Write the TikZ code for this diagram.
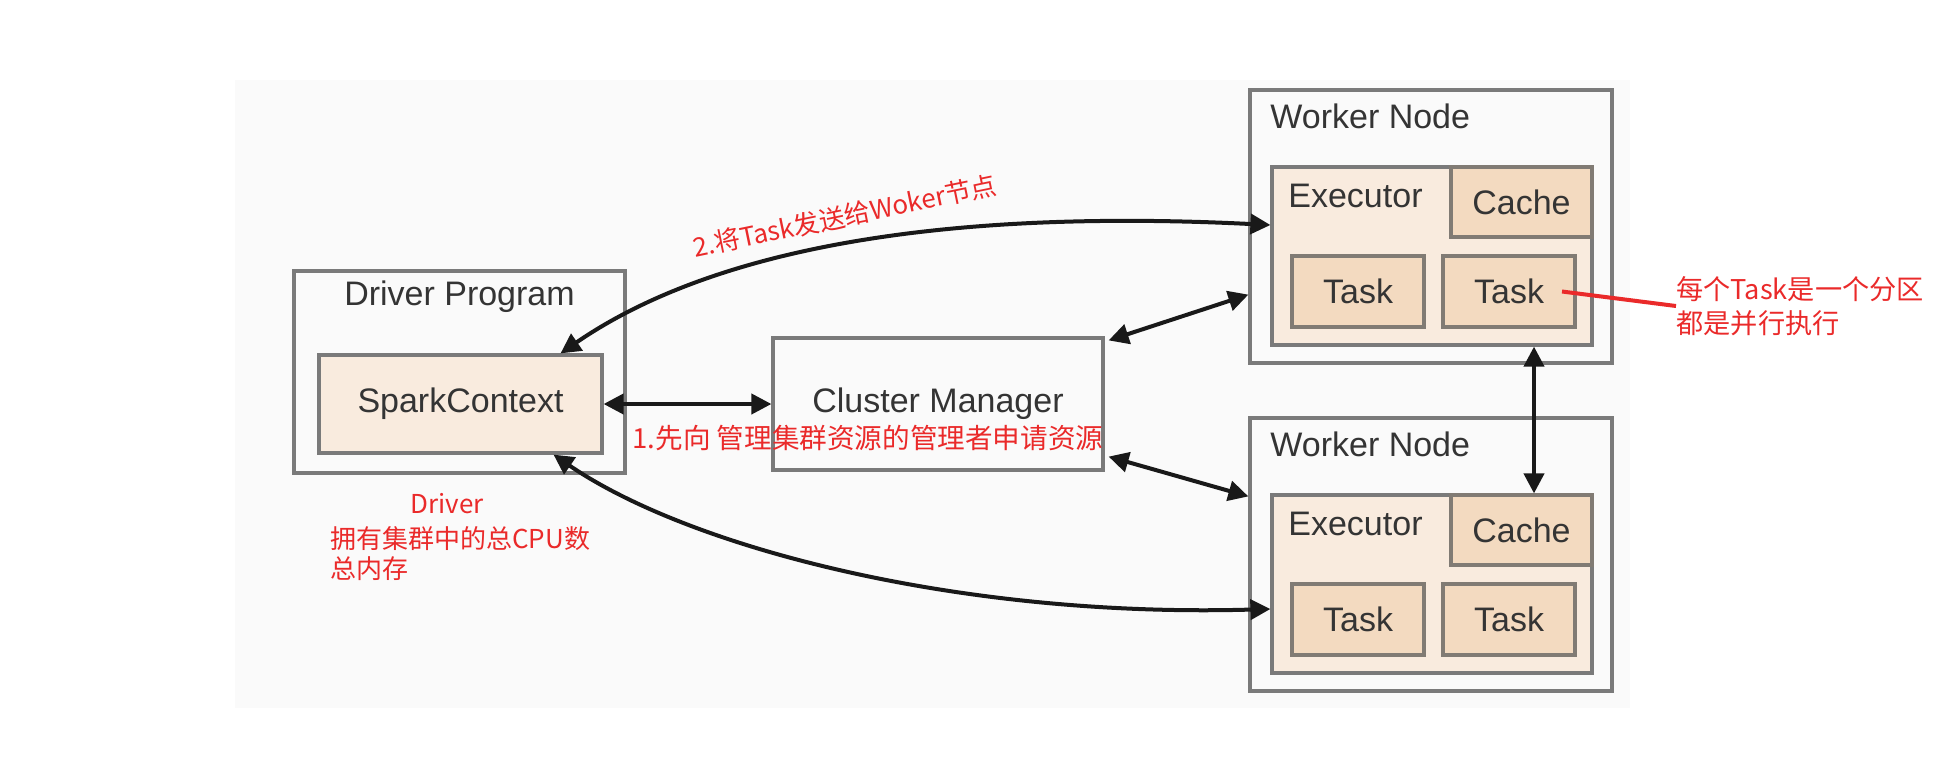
\documentclass[tikz,border=0pt]{standalone}
\usepackage{fontspec}
\setmainfont{Liberation Sans}
\newfontfamily\cjk{Noto Sans CJK SC}
\usetikzlibrary{arrows.meta,calc}
\definecolor{R}{RGB}{234, 42, 42}
\definecolor{Fo}{RGB}{250, 250, 250}
\definecolor{Ex}{RGB}{249, 235, 222}
\definecolor{Ta}{RGB}{243, 218, 192}
\definecolor{Bo}{RGB}{122, 122, 122}
\definecolor{Tx}{RGB}{52, 52, 52}

\tikzset{
	caja/.style={draw=Bo, line width=1.6pt, inner sep=0pt, text=Tx, font=\fontsize{17}{20}\selectfont},
	exe/.style={caja, fill=Ex},
	tarea/.style={caja, fill=Ta, draw=Bo!90!brown, minimum width=66pt, minimum height=35.5pt},
	titulo/.style={inner sep=0pt, text=Tx, font=\fontsize{17}{20}\selectfont},
	flecha/.style={{Triangle[length=10pt,width=10pt]}-{Triangle[length=10pt,width=10pt]}, line width=2pt, black!90},
	nota/.style={inner sep=0pt, text=R, font=\cjk\fontsize{13}{15}\selectfont}
}

\begin{document}
\begin{tikzpicture}[x=0.5pt, y=-0.5pt]
	\useasboundingbox (0,0) rectangle (1954,778);
	% Fondo de la captura
	\fill[Fo] (235,80) rectangle (1630,708);

	% Driver Program
	\node[caja, minimum width=165.5pt, minimum height=101pt] (dp) at (459.5,372) {};
	\node[titulo] (dpt) at (459.5,297) {Driver Program};
	\node[exe, minimum width=141.5pt, minimum height=49pt] (sc) at (460.5,404) {SparkContext};

	% Cluster Manager
	\node[caja, minimum width=165pt, minimum height=66pt] (cm) at (938,404) {Cluster Manager};

	% Worker Nodes (el segundo va 328 mas abajo)
	\foreach \i/\d in {1/0, 2/328}{
		\node[caja, minimum width=181pt, minimum height=136.5pt] (w\i) at (1431,226.5+\d) {};
		\node[titulo, anchor=base west] (wt\i) at (1270,128+\d) {Worker Node};
		\node[exe, minimum width=160pt, minimum height=89pt] (ex\i) at (1432,256+\d) {};
		\node[titulo, anchor=base west] (ext\i) at (1288,207+\d) {Executor};
		\node[tarea, minimum width=70.5pt, minimum height=35pt] (ca\i) at (1521.5,202+\d) {Cache};
		\node[tarea] (ta\i) at (1358,291.5+\d) {Task};
		\node[tarea] (tb\i) at (1509,291.5+\d) {Task};
	}

	% Flechas
	\draw[flecha] (sc.east) -- (cm.west);
	\draw[flecha] ($(cm.north east)+(4,4)$) -- ($(w1.south west)+(0,-70)$);
	\draw[flecha] ($(cm.south east)+(4,-15)$) -- ($(w2.north west)+(0,80)$);
	\draw[flecha] ($(ex1.south)+(102,0)$) -- ($(ex2.north)+(102,0)$);
	\draw[flecha] ($(sc.north)+(100,0)$) .. controls (740,230) and (1010,212) .. ($(ex1.west)+(0,-31)$);
	\draw[flecha] ($(sc.south)+(93,0)$) .. controls (690,548) and (960,618) .. ($(ex2.west)+(0,25)$);

	% Notas en rojo
	\node[nota, font=\cjk\fontsize{13.8}{15}\selectfont] (n1) at (868,438) {1.先向 管理集群资源的管理者申请资源};
	\node[nota, rotate=11.7] (n2) at (845,216) {2.将Task发送给Woker节点};
	\node[nota] (dn1) at (447,504) {Driver};
	\node[nota, anchor=north west, align=left] (dn2) at (330,526) {拥有集群中的总CPU数\\总内存};
	\node[nota, anchor=west, align=left, font=\cjk\fontsize{13.6}{17}\selectfont] (tnota) at (1676,306) {每个Task是一个分区\\都是并行执行};
	\draw[R, line width=2pt] ($(tb1.center)+(53,0)$) -- (tnota.west);
\end{tikzpicture}
\end{document}
